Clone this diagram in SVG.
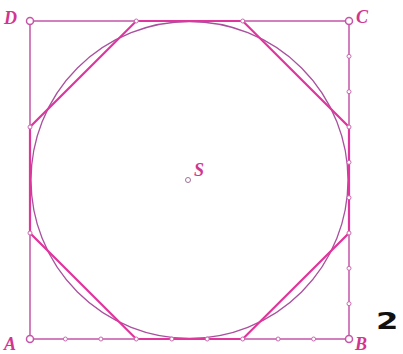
<svg xmlns="http://www.w3.org/2000/svg" width="403" height="354" viewBox="0 0 403 354">
<style>
.sq{fill:none;stroke:#c455a8;stroke-width:1.5}
.ci{fill:none;stroke:#a8509e;stroke-width:1.3}
.oc{fill:none;stroke:#e0359c;stroke-width:2.2}
.dot{fill:#fff;stroke:#c86ab0;stroke-width:1}
.cor{fill:#fff;stroke:#c455a8;stroke-width:1.5}
.lbl{font-family:"Liberation Serif",serif;font-weight:bold;font-style:italic;font-size:18px;fill:#d2348f}
.num{font-family:"DejaVu Sans",sans-serif;font-weight:bold;font-size:23px;fill:#111}
</style>
<rect width="403" height="354" fill="#fff"/>
<g id="connectors">
<rect class="sq" x="30" y="21" width="319" height="318"/>
<circle class="ci" cx="189.5" cy="180" r="158.5"/>
<polygon class="oc" points="136.3,21 242.7,21 349,127 349,233 242.7,339 136.3,339 30,233 30,127"/>
</g>
<g id="bottom-dots">
<circle class="dot" cx="65.4" cy="339" r="2"/>
<circle class="dot" cx="100.9" cy="339" r="2"/>
<circle class="dot" cx="136.3" cy="339" r="2"/>
<circle class="dot" cx="171.8" cy="339" r="2"/>
<circle class="dot" cx="207.2" cy="339" r="2"/>
<circle class="dot" cx="242.7" cy="339" r="2"/>
<circle class="dot" cx="278.1" cy="339" r="2"/>
<circle class="dot" cx="313.6" cy="339" r="2"/>
</g>
<g id="right-dots">
<circle class="dot" cx="349" cy="56.3" r="2"/>
<circle class="dot" cx="349" cy="91.7" r="2"/>
<circle class="dot" cx="349" cy="127" r="2"/>
<circle class="dot" cx="349" cy="162.3" r="2"/>
<circle class="dot" cx="349" cy="197.7" r="2"/>
<circle class="dot" cx="349" cy="233" r="2"/>
<circle class="dot" cx="349" cy="268.3" r="2"/>
<circle class="dot" cx="349" cy="303.7" r="2"/>
</g>
<g id="octagon-dots">
<circle class="dot" cx="136.3" cy="21" r="2"/>
<circle class="dot" cx="242.7" cy="21" r="2"/>
<circle class="dot" cx="30" cy="127" r="2"/>
<circle class="dot" cx="30" cy="233" r="2"/>
</g>
<g id="A"><circle class="cor" cx="30" cy="339" r="3.5"/><text class="lbl" x="4" y="350">A</text></g>
<g id="B"><circle class="cor" cx="349" cy="339" r="3.5"/><text class="lbl" x="355" y="350">B</text></g>
<g id="C"><circle class="cor" cx="349" cy="21" r="3.5"/><text class="lbl" x="356" y="23">C</text></g>
<g id="D"><circle class="cor" cx="30" cy="21" r="3.5"/><text class="lbl" x="4" y="24">D</text></g>
<g id="S"><circle cx="188" cy="180" r="2.5" fill="#fff" stroke="#a0709a" stroke-width="1"/><text class="lbl" x="194" y="176" font-size="15px">S</text></g>
<g id="figure-number"><text class="num" transform="translate(376,329) scale(1.4,1)" x="0" y="0">2</text></g>
</svg>
